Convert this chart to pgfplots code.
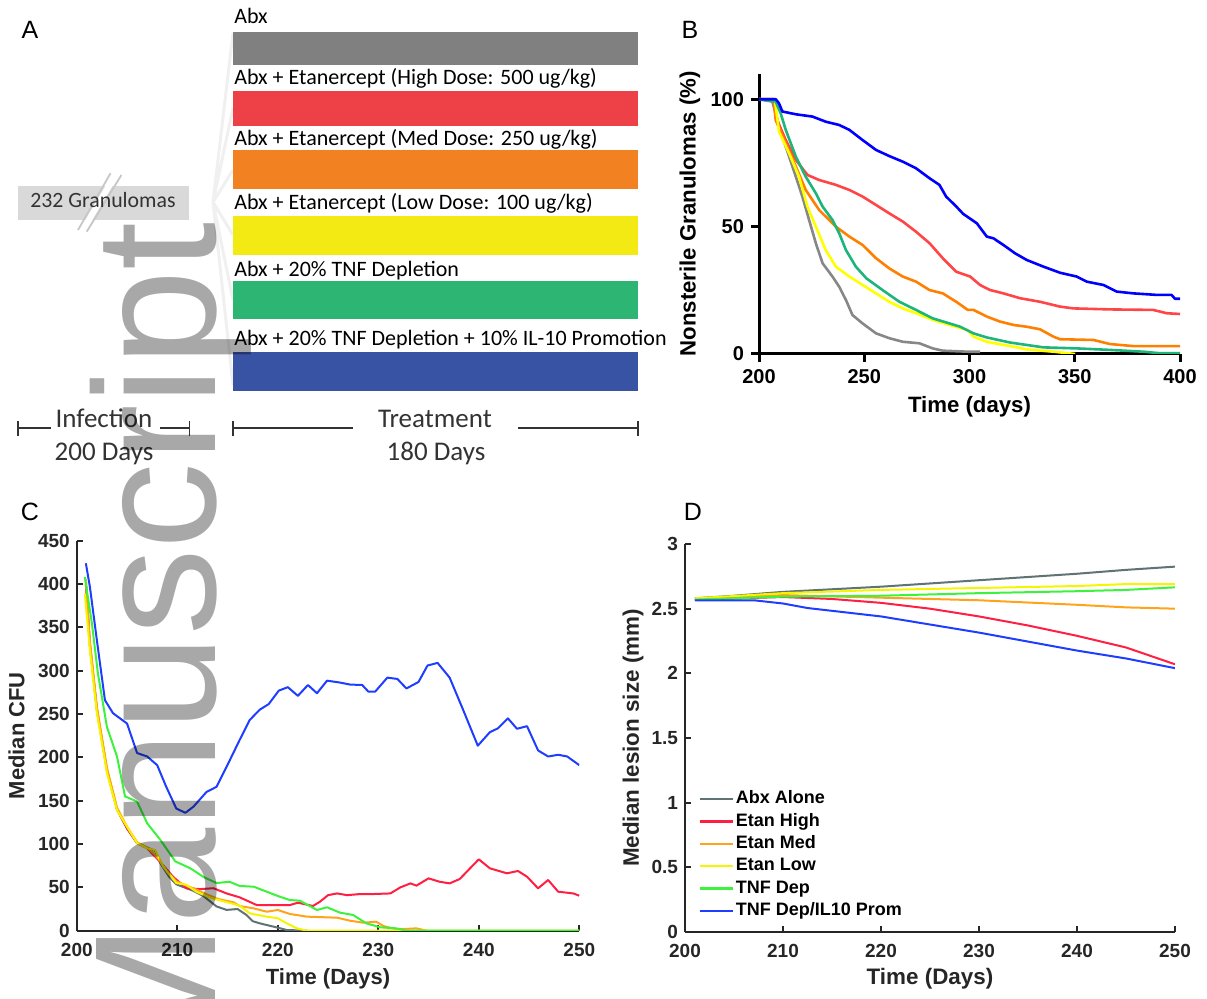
\documentclass[border=0pt]{standalone}
\usepackage{pgfplots}
\pgfplotsset{compat=1.18}
\usepackage{fontspec}
\setmainfont{Liberation Sans}
\newfontfamily\afont{Carlito}
\definecolor{abxA}{HTML}{808080}
\definecolor{hiA}{HTML}{EE4147}
\definecolor{medA}{HTML}{F28122}
\definecolor{lowA}{HTML}{F3EA14}
\definecolor{tnfA}{HTML}{2DB573}
\definecolor{ilA}{HTML}{3853A4}
\definecolor{boxg}{HTML}{D9D9D9}
\definecolor{txtA}{HTML}{333333}
\definecolor{bGray}{HTML}{878787}
\definecolor{bRed}{HTML}{FF4545}
\definecolor{bOrange}{HTML}{FF7F00}
\definecolor{bYellow}{HTML}{FFFF00}
\definecolor{bGreen}{HTML}{1DB579}
\definecolor{bBlue}{HTML}{0000FF}
\definecolor{cGray}{HTML}{607272}
\definecolor{cRed}{HTML}{FF1F42}
\definecolor{cOrange}{HTML}{FFA31A}
\definecolor{cYellow}{HTML}{F5F500}
\definecolor{cGreen}{HTML}{3DF23D}
\definecolor{cBlue}{HTML}{1F3DFF}
\definecolor{axc}{HTML}{262626}
\begin{document}
\begin{tikzpicture}[x=0.5pt,y=-0.5pt]
\path[use as bounding box] (0,0) rectangle (1207,999);
% ---------------- Panel A (overlay axis in pixel units) ----------------
\begin{axis}[at={(0pt,0pt)}, anchor=north west, scale only axis, width=603.5pt, height=499.5pt,
  xmin=0, xmax=1207, ymin=0, ymax=999, y dir=reverse, axis lines=none, clip=false, no markers]
  % fan
  \draw[black!6, line width=1.5pt] (213,202) -- (233,33) (213,202) -- (233,108) (213,202) -- (233,170)
     (213,202) -- (233,235) (213,202) -- (233,300) (213,202) -- (233,385);
  % bars
  \addplot[fill=abxA, draw=none] coordinates {(233,32.5) (638,32.5) (638,65.5) (233,65.5)} -- cycle;
  \addplot[fill=hiA, draw=none] coordinates {(233,91) (638,91) (638,126) (233,126)} -- cycle;
  \addplot[fill=medA, draw=none] coordinates {(233,150) (638,150) (638,189) (233,189)} -- cycle;
  \addplot[fill=lowA, draw=none] coordinates {(233,216) (638,216) (638,255) (233,255)} -- cycle;
  \addplot[fill=tnfA, draw=none] coordinates {(233,281) (638,281) (638,319.5) (233,319.5)} -- cycle;
  \addplot[fill=ilA, draw=none] coordinates {(233,352.5) (638,352.5) (638,390.5) (233,390.5)} -- cycle;
  % granuloma box
  \addplot[fill=boxg, draw=none] coordinates {(18,186) (189.4,186) (189.4,220) (18,220)} -- cycle;
  \draw[white, line width=3pt] (82.3,231) -- (116,174);
  \draw[black!22, line width=0.9pt] (78,230) -- (110.5,173.3);
  \draw[black!22, line width=0.9pt] (86.7,231.7) -- (121.4,175);
  \node[anchor=base, inner sep=0pt, text=txtA, font=\afont\fontsize{10.9}{12}\selectfont] at (103,208) {232 Granulomas};
  % bar labels
  \begin{scope}[every node/.style={anchor=base west, inner sep=0pt, text=black, font=\afont\fontsize{11}{13}\selectfont}]
  \node at (234,24) {Abx};
  \node at (234,85) {Abx + Etanercept (High Dose: 500 ug/kg)};
  \node at (234,146) {Abx + Etanercept (Med Dose: 250 ug/kg)};
  \node at (234,209.3) {Abx + Etanercept (Low Dose: 100 ug/kg)};
  \node at (234,276.7) {Abx + 20\% TNF Depletion};
  \node at (234,346) {Abx + 20\% TNF Depletion + 10\% IL-10 Promotion};
  \end{scope}
  % timeline
  \draw[txtA, line width=0.75pt] (18,428) -- (51,428) (160.4,428) -- (189.4,428)
     (18,421) -- (18,436) (189.4,421) -- (189.4,436)
     (233,428) -- (353.3,428) (518,428) -- (638,428)
     (233,421) -- (233,436) (638,421) -- (638,436);
  \begin{scope}[every node/.style={anchor=base, inner sep=0pt, text=txtA, font=\afont\fontsize{13.5}{15}\selectfont}]
  \node at (104,428) {Infection};
  \node at (104,460) {200 Days};
  \node at (435,428) {Treatment};
  \node at (436,460) {180 Days};
  \end{scope}
  % panel letters
  \begin{scope}[every node/.style={anchor=center, inner sep=0pt, font=\fontsize{12.5}{14}\selectfont}]
  \node at (30,30) {A};
  \node at (690,30) {B};
  \node at (30,512) {C};
  \node at (693,512) {D};
  \end{scope}
\end{axis}
% ---------------- Panel B ----------------
\begin{axis}[at={(379.5pt,-177pt)}, anchor=south west, scale only axis, width=210.5pt, height=140.1pt,
  xmin=200, xmax=400, ymin=0, ymax=110,
  axis lines=left, axis line style={-, line width=1.5pt, black},
  tick align=outside, major tick length=4pt, tick style={line width=1.5pt, black},
  xtick={200,250,...,400}, ytick={0,50,100},
  tick label style={font=\bfseries\fontsize{10}{11}\selectfont},
  /pgf/number format/assume math mode=true,
  xlabel={Time (days)}, ylabel={Nonsterile Granulomas (\%)},
  label style={font=\bfseries\fontsize{11.1}{12}\selectfont},
  xlabel style={at={(axis description cs:0.5,-0.189)}, anchor=center},
  ylabel style={at={(axis description cs:-0.164,0.5)}, anchor=center},
  no markers, every axis plot/.append style={line width=1.3pt, line join=round}]
\addplot[bGray] coordinates {(200,100) (206.3,99.1) (207.9,94.5) (211.1,85.3) (214.3,77.5) (217.5,69.6) (220.6,61.8) (223.8,52.6) (227,43.5) (230.2,35.6) (234.9,30.4) (238.1,26.4) (241.3,21.2) (244.4,15.3) (249.2,12) (255.6,8.1) (261.9,6.2) (268.3,4.8) (276.2,4.2) (282.5,2.2) (287.3,1.3) (299.2,0.9) (305,0.9)};
\addplot[bRed] coordinates {(200,100) (207.1,100) (207.9,93.2) (212.7,84) (217.5,76.2) (223,70.3) (228.6,68.3) (236.5,66.4) (242.9,64.4) (249.2,61.8) (255.6,58.5) (261.9,55.2) (268.3,52) (274.6,48) (281,43.5) (287.3,37.6) (293.7,32.3) (300.3,30.4) (305,27.1) (309.8,25.1) (316.1,23.8) (324,21.9) (333.5,20.5) (343,18.6) (349.4,17.9) (366.8,17.5) (387.3,17.3) (393.7,16) (400,15.7)};
\addplot[bOrange] coordinates {(200,100) (207.1,100) (207.9,91.9) (212.7,82.7) (217.5,73.6) (222.2,64.4) (228.6,56.5) (236.5,50) (242.9,46.1) (249.2,42.8) (255.6,37.6) (261.9,33.6) (268.3,30.4) (274.6,28.4) (281,25.1) (287.3,23.8) (293.7,20.5) (299.2,17.3) (301.9,17.3) (308.2,14.7) (314.6,12.7) (320.9,11.4) (327.2,10.7) (333.5,9.7) (339.9,6.8) (343,5.8) (358.9,5.5) (366.8,3.9) (377.8,3.1) (400,3.1)};
\addplot[bYellow] coordinates {(200,100) (207.5,100) (209.5,87.3) (214.3,78.8) (219,69.6) (223,57.9) (227,50) (231.7,40.8) (236.5,34.3) (242.9,30.4) (249.2,27.1) (255.6,23.8) (261.9,20.5) (268.3,17.9) (274.6,16) (282.5,13.4) (290.5,11.4) (299.2,9.4) (301.9,6.8) (308.2,4.8) (319.3,3.1) (327.2,1.8) (339.9,0.9) (350.2,0)};
\addplot[bGreen] coordinates {(200,100) (207.9,99.1) (210.3,94.5) (212.7,88) (217.5,77.5) (222.2,69.6) (227,63.1) (230.2,57.9) (234.9,52.6) (238.1,47.4) (241.3,40.8) (246,34.3) (251,29.7) (258.7,25.1) (266.7,20.5) (274.6,17.3) (282.5,14) (290.5,12) (295.6,10.7) (301.9,8.1) (308.2,6.5) (319.3,4.5) (335.1,2.6) (350.9,2.2) (366.8,1.6) (382.6,0.9) (390.5,0.3) (400,0.3)};
\addplot[bBlue] coordinates {(200,100) (208,100) (209.5,98.4) (211.1,95.2) (217.5,94.1) (225.4,93.2) (231.7,91.2) (238.1,89.9) (242.9,88) (249.2,84) (255.6,80.1) (261.9,77.7) (268.3,75.5) (274.6,72.9) (281,69) (285.7,66.4) (288.9,61.8) (293.7,57.9) (297,55) (300,53.3) (303.5,51.3) (308.2,46.1) (311.4,45.4) (316.1,42.8) (321.7,39.5) (327.2,36.9) (335.1,34.3) (343,31.9) (350.9,30.4) (355.7,28.4) (363.6,27.1) (369.9,24.5) (377.8,23.8) (388.9,23.2) (396,23.2) (397.6,21.7) (400,21.7)};
\end{axis}
% ---------------- Panel C ----------------
\begin{axis}[at={(38.4pt,-465.35pt)}, anchor=south west, scale only axis, width=251.25pt, height=195pt,
  xmin=200, xmax=250, ymin=0, ymax=450,
  axis lines=left, axis line style={-, line width=1pt, axc},
  tick align=inside, major tick length=3pt, tick style={line width=1pt, axc},
  xtick={200,210,...,250}, ytick={0,50,...,450},
  tick label style={font=\bfseries\fontsize{9.5}{10}\selectfont, text=axc},
  xticklabel style={yshift=-2.5pt},
  /pgf/number format/assume math mode=true,
  xlabel={Time (Days)}, ylabel={Median CFU},
  label style={font=\bfseries\fontsize{11}{12}\selectfont, text=axc},
  xlabel style={at={(axis description cs:0.5,-0.124)}, anchor=center},
  ylabel style={at={(axis description cs:-0.12,0.5)}, anchor=center},
  no markers, every axis plot/.append style={line width=1pt, line join=round}]
\addplot[cGray] coordinates {(200.9,405) (201.3,330) (202,255) (203,185) (204,140) (205,118) (206,101) (207,96) (207.8,92) (208.3,78) (209.2,62) (209.9,53.5) (211.6,46) (212.6,40) (213.9,28) (214.9,24) (216,25) (216.9,18) (217.5,11) (218.2,8.5) (219.6,4.6) (220.9,0.8) (222.9,0)};
\addplot[cRed] coordinates {(200.9,400) (201.3,330) (202,255) (203,185) (204,140) (205,118) (206,101) (207,95) (208,83) (209,70) (209.6,62) (210.9,49) (212.3,48) (213.6,49) (214.9,43) (216.2,38.5) (217.9,29.6) (221.2,29.6) (222,32.3) (223.5,28.5) (224.2,33.5) (225,41) (225.9,43) (226.9,41) (228.2,42.3) (229.5,42.3) (231.2,43) (232.2,50) (233.2,54.6) (233.8,52) (235,60.4) (236.1,56.5) (237.1,54.6) (238.1,59.6) (240,82.4) (241.1,72) (242.8,66.2) (243.9,68.9) (244.8,62.3) (245.9,48.9) (246.9,58.5) (247.9,45) (249.4,43) (250,40.4)};
\addplot[cOrange] coordinates {(200.9,405) (201.3,335) (202,258) (203,188) (204,142) (205,120) (206,102) (207,96) (208,85) (209,68) (209.9,57) (210.9,52) (211.8,48) (212.9,42) (214.1,36.5) (215.6,32.7) (216.2,28.5) (217.6,25.8) (218.9,21.9) (220,23.9) (221.2,19.3) (222.9,16.2) (224.9,15.4) (225.9,15) (227.2,11.5) (228.5,9.2) (229.8,10.4) (230.5,5.4) (231.8,1.5) (233.8,2.7) (234.8,0)};
\addplot[cYellow] coordinates {(200.8,389) (201.3,324) (202,251) (203,182) (204,139) (205,120) (206,101) (207,95) (207.8,93) (208.6,74) (209.9,55) (210.9,53) (211.9,45) (213.3,38) (214.9,33) (216.2,29) (217.2,20) (218.9,16.2) (220,14.3) (220.9,8.5) (221.9,2.7) (222.9,0) (250,0)};
\addplot[cGreen] coordinates {(200.8,408) (201.5,355) (202.1,297) (203,235) (204,201) (204.8,155) (206,149) (207,124) (208.3,105) (209.8,80) (211.3,72) (212.6,62) (213.9,55) (215.2,56.5) (216.2,51.6) (217.6,50.8) (218.9,45) (220.2,39.2) (221.2,35.4) (222.2,34.6) (223.9,23.9) (224.9,27) (226.2,20.8) (227.5,18.1) (228.8,8.5) (230.2,3.9) (231.8,2.7) (232.8,0) (250,0)};
\addplot[cBlue] coordinates {(200.9,424) (201.3,397) (202,335) (202.8,266) (203.6,251) (205,239) (206,205) (207,201) (208,191) (208.9,166) (209.9,141) (210.8,136) (211.6,143) (212.9,160) (213.9,166) (214.9,189) (216.2,220) (217.2,243) (218.2,255) (219.1,261.5) (220.1,277) (221,281) (222,271) (223,283.5) (223.9,274) (224.9,288.5) (226.1,286.5) (227.2,284) (228.4,283.5) (229,276) (229.7,276) (230.9,292) (231.9,290.5) (232.8,279.5) (234,287) (234.9,306) (235.9,309) (237.1,292) (238.4,256) (239.9,213.5) (241.1,229) (241.9,233.5) (242.9,245) (243.8,233) (244.8,236) (245.9,208) (246.9,201) (247.9,203) (248.8,201) (250,191)};
\end{axis}
% ---------------- Panel D ----------------
\begin{axis}[at={(342.5pt,-466pt)}, anchor=south west, scale only axis, width=245pt, height=194pt,
  xmin=200, xmax=250, ymin=0, ymax=3,
  axis lines=left, axis line style={-, line width=1pt, axc},
  tick align=inside, major tick length=3pt, tick style={line width=1pt, axc},
  xtick={200,210,...,250}, ytick={0,0.5,...,3},
  tick label style={font=\bfseries\fontsize{9.5}{10}\selectfont, text=axc},
  xticklabel style={yshift=-2.5pt},
  /pgf/number format/assume math mode=true,
  xlabel={Time (Days)}, ylabel={Median lesion size (mm)},
  label style={font=\bfseries\fontsize{11.2}{12}\selectfont, text=axc},
  xlabel style={at={(axis description cs:0.5,-0.121)}, anchor=center},
  ylabel style={at={(axis description cs:-0.106,0.5)}, anchor=center},
  legend style={at={(rel axis cs:0.0265,0.369)}, anchor=north west, draw=none, fill=none,
     font=\bfseries\fontsize{9}{10}\selectfont, inner sep=0pt, row sep=1.15pt,
     nodes={inner sep=1pt, text height=6.3pt, text depth=1.7pt}},
  legend cell align=left,
  legend image code/.code={\draw[#1, line width=1.2pt] (0pt,0pt) -- (16.5pt,0pt);},
  no markers, every axis plot/.append style={line width=1pt, line join=round}]
\addplot[cGray] coordinates {(201,2.58) (205,2.6) (210,2.63) (215,2.65) (220,2.67) (225,2.695) (230,2.72) (235,2.745) (240,2.77) (245,2.8) (250,2.825)};
\addlegendentry{Abx Alone}
\addplot[cRed] coordinates {(201,2.57) (210,2.59) (215,2.575) (220,2.545) (225,2.5) (230,2.44) (235,2.37) (240,2.29) (245,2.2) (250,2.07)};
\addlegendentry{Etan High}
\addplot[cOrange] coordinates {(201,2.58) (210,2.605) (215,2.595) (220,2.585) (230,2.565) (240,2.53) (245,2.51) (250,2.5)};
\addlegendentry{Etan Med}
\addplot[cYellow] coordinates {(201,2.58) (210,2.62) (220,2.645) (230,2.66) (240,2.675) (245,2.69) (250,2.69)};
\addlegendentry{Etan Low}
\addplot[cGreen] coordinates {(201,2.57) (210,2.593) (220,2.6) (230,2.62) (240,2.635) (245,2.645) (250,2.665)};
\addlegendentry{TNF Dep}
\addplot[cBlue] coordinates {(201,2.565) (207,2.565) (210,2.54) (212.5,2.505) (220,2.44) (230,2.315) (240,2.176) (245,2.115) (250,2.04)};
\addlegendentry{TNF Dep/IL10 Prom}
\end{axis}
% ---------------- watermark ----------------
\node[rotate=90, anchor=base east, inner sep=0pt, text=black, text opacity=0.34,
  font=\fontsize{86.5}{86.5}\selectfont] at (215,222) {Manuscript};
\end{tikzpicture}
\end{document}
